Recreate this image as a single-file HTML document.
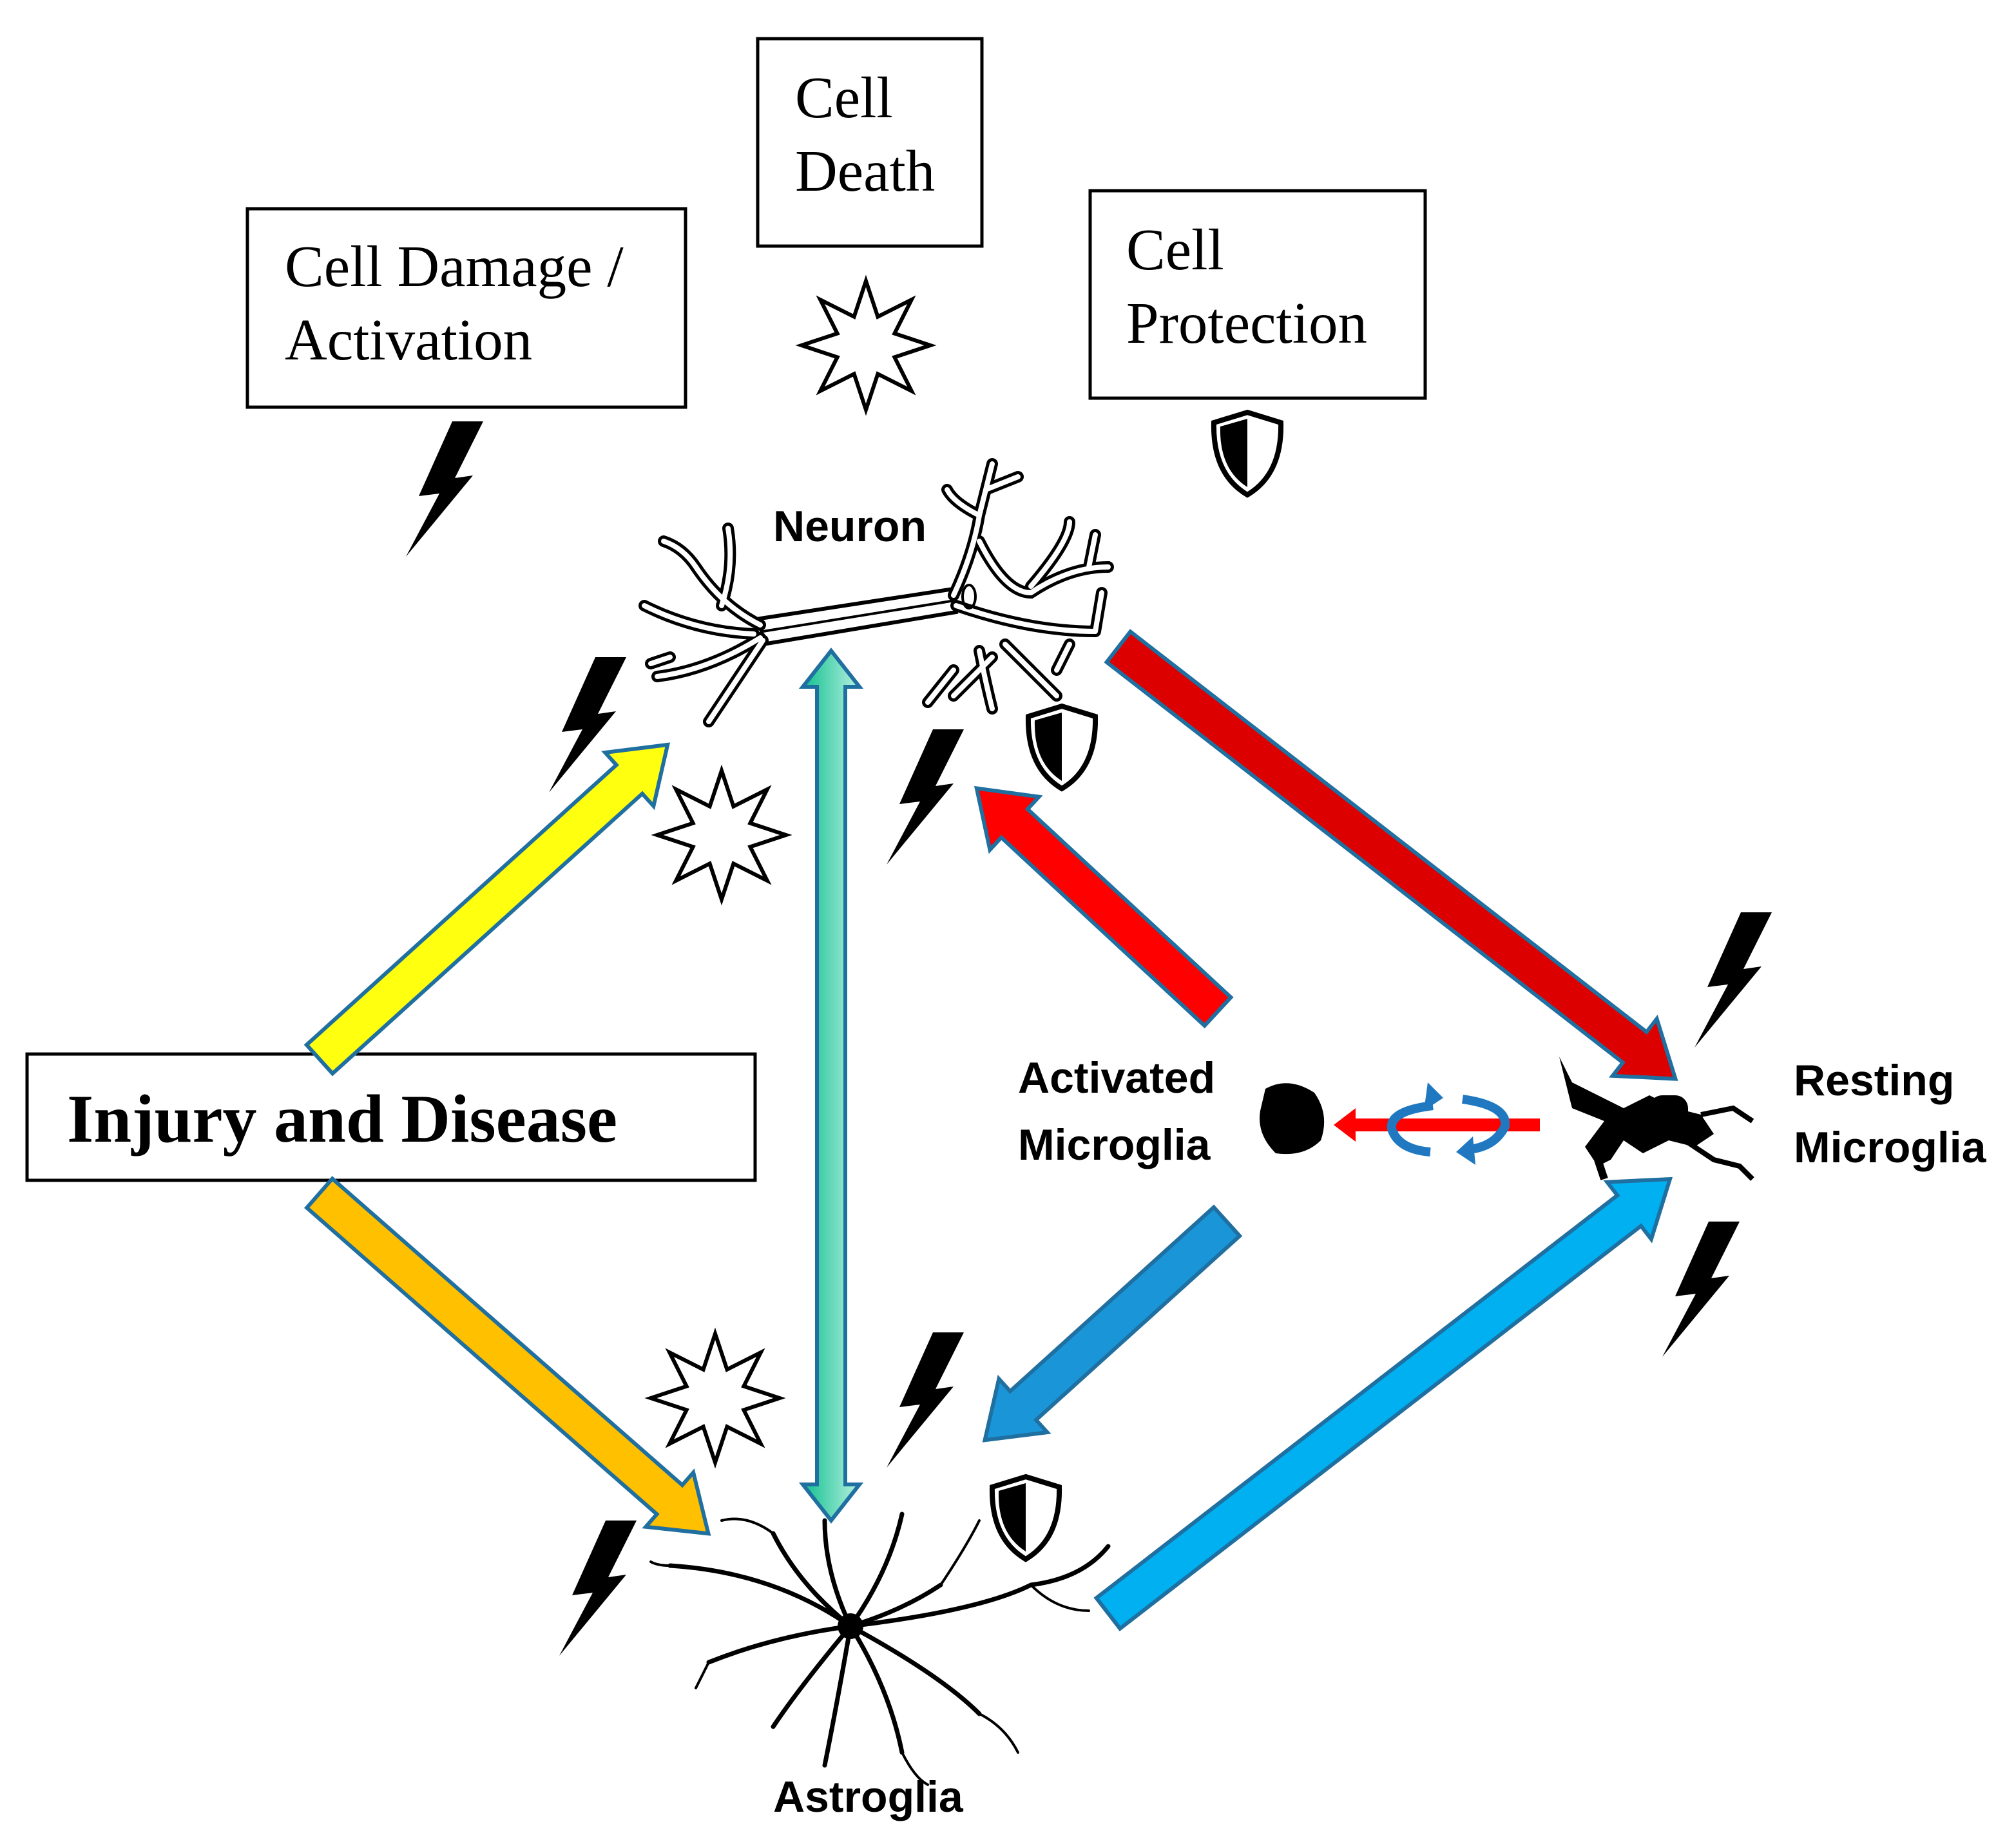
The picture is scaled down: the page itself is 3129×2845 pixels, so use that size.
<!DOCTYPE html>
<html><head><meta charset="utf-8"><style>
html,body{margin:0;padding:0;background:#fff}
svg{display:block}
.box{fill:#fff;stroke:#000;stroke-width:2.5}
.ser{font-family:"Liberation Serif",serif;font-size:45.5px;fill:#000}
.lab{font-family:"Liberation Sans",sans-serif;font-weight:bold;font-size:34px;fill:#000}
.n{fill:none;stroke:#000;stroke-width:9;stroke-linecap:round}
.nw{fill:none;stroke:#fff;stroke-width:4;stroke-linecap:round}
.a{fill:none;stroke:#000;stroke-linecap:round}
</style></head><body>
<svg width="3129" height="2845" viewBox="0 0 1564.5 1422.5" xmlns="http://www.w3.org/2000/svg">
<defs>
<polygon id="bolt" points="36,0 60,0 38,44 52,42 0,105 26,56 10,58" fill="#000"/>
<g id="star"><polygon fill="#fff" stroke="#000" stroke-width="3" stroke-linejoin="miter" points="50,0 22.2,9.2 35.4,35.4 9.2,22.2 0,50 -9.2,22.2 -35.4,35.4 -22.2,9.2 -50,0 -22.2,-9.2 -35.4,-35.4 -9.2,-22.2 0,-50 9.2,-22.2 35.4,-35.4 22.2,-9.2"/></g>
<g id="shield"><path d="M0,-30 L26,-22 Q27,18 0,34 Q-27,18 -26,-22 Z" fill="#fff" stroke="#000" stroke-width="4"/><path d="M0,-25 L-21,-19 Q-22,14 0,28 Z" fill="#000"/></g>
<linearGradient id="gg" x1="0" x2="1" y1="0" y2="0"><stop offset="0" stop-color="#10c090"/><stop offset="1" stop-color="#b8f0e0"/></linearGradient>
<path id="ndr" d="M590,485 Q560,470 540,440 M585,492 Q540,490 500,470 M590,495 Q550,520 510,525 M592,497 Q570,530 550,560 M560,470 Q570,440 565,410 M540,440 Q530,425 515,420 M520,510 L505,515 M740,462 Q755,430 760,400 L770,360 M760,400 Q740,390 735,380 M765,380 L790,370 M760,420 Q780,460 800,460 Q830,440 860,440 M800,455 Q830,420 830,405 M845,440 L850,415 M742,470 Q800,490 850,490 M850,490 L855,460 M780,500 Q800,520 820,540 M760,505 Q765,530 770,550 M770,510 L740,540 M740,520 L720,545 M820,520 L830,500"/>
</defs>

<rect class="box" x="192" y="162" width="340" height="154"/>
<text class="ser" x="221" y="222">Cell Damage /</text>
<text class="ser" x="221" y="279">Activation</text>
<rect class="box" x="588" y="30" width="174" height="161"/>
<text class="ser" x="617" y="91">Cell</text>
<text class="ser" x="617" y="148">Death</text>
<rect class="box" x="846" y="148" width="260" height="161"/>
<text class="ser" x="874" y="209">Cell</text>
<text class="ser" x="874" y="266">Protection</text>
<rect class="box" x="21" y="818" width="565" height="98"/>
<text x="52" y="886" style="font-family:'Liberation Serif',serif;font-weight:bold;font-size:53px">Injury and Disease</text>

<text class="lab" x="600" y="420">Neuron</text>
<text class="lab" x="790" y="848">Activated</text>
<text class="lab" x="790" y="900">Microglia</text>
<text class="lab" x="1392" y="850">Resting</text>
<text class="lab" x="1392" y="902">Microglia</text>
<text class="lab" x="600" y="1406">Astroglia</text>

<use href="#bolt" x="315" y="327"/>
<use href="#bolt" x="426" y="510"/>
<use href="#bolt" x="688" y="566"/>
<use href="#bolt" x="688" y="1034"/>
<use href="#bolt" x="434" y="1180"/>
<use href="#bolt" x="1315" y="708"/>
<use href="#bolt" x="1290" y="948"/>
<use href="#star" x="672" y="268"/>
<use href="#star" x="560" y="648"/>
<use href="#star" x="555" y="1085"/>
<use href="#shield" x="968" y="350"/>
<use href="#shield" x="824" y="578"/>
<use href="#shield" x="796" y="1176"/>

<g>
<path d="M590,480 L740,457 L742,475 L592,500 Z" fill="#fff" stroke="#000" stroke-width="3"/>
<path d="M592,490 L741,466" stroke="#000" stroke-width="2" fill="none"/>
<use href="#ndr" class="n"/>
<use href="#ndr" class="nw"/>
<ellipse cx="752" cy="463" rx="5" ry="9" fill="none" stroke="#000" stroke-width="2"/>
</g>

<g>
<circle cx="660" cy="1262" r="10" fill="#000"/>
<path class="a" stroke-width="3.5" d="M660,1262 Q620,1230 600,1190 M660,1262 Q640,1220 640,1180 M660,1262 Q690,1220 700,1175 M660,1262 Q700,1250 730,1230 M660,1262 Q600,1220 520,1215 M660,1262 Q600,1270 550,1290 M660,1262 Q620,1310 600,1340 M660,1262 Q650,1320 640,1370 M660,1262 Q690,1310 700,1360 M660,1262 Q730,1300 760,1330 M660,1262 Q760,1250 800,1230 Q840,1225 860,1200"/>
<path class="a" stroke-width="2" d="M600,1190 Q580,1175 560,1180 M520,1215 Q510,1215 505,1212 M760,1330 Q780,1340 790,1360 M700,1360 Q710,1380 720,1385 M800,1230 Q820,1250 845,1250 M730,1230 Q750,1200 760,1180 M550,1290 L540,1310"/>
</g>

<path d="M982,845 Q1000,835 1020,848 Q1032,865 1025,885 Q1012,898 990,895 Q975,880 978,862 Z" fill="#000"/>
<g fill="#000">
<path d="M1210,820 L1220,840 L1240,850 L1260,860 L1280,850 L1300,860 L1320,865 L1330,880 L1315,890 L1295,885 L1275,895 L1260,885 L1250,900 L1240,905 L1230,890 L1245,870 L1220,860 Z"/>
<rect x="1280" y="850" width="30" height="30" rx="10"/>
<path d="M1300,880 L1330,900 L1350,905 L1360,915" stroke="#000" stroke-width="4" fill="none"/>
<path d="M1320,865 L1345,860 L1360,870" stroke="#000" stroke-width="4" fill="none"/>
<path d="M1240,900 L1245,915" stroke="#000" stroke-width="6" fill="none"/>
</g>

<g stroke="#1f6fa0" stroke-width="3" stroke-linejoin="miter">
<polygon transform="translate(248,822) rotate(-42.1)" fill="#ffff10" points="0,-15 324,-15 324,-28 364,0 324,28 324,15 0,15"/>
<polygon transform="translate(248,926) rotate(41.2)" fill="#ffc000" points="0,-15 361,-15 361,-28 401,0 361,28 361,15 0,15"/>
<polygon transform="translate(945,785) rotate(222.8)" fill="#ff0000" points="0,-15 215,-15 215,-28 255,0 215,28 215,15 0,15"/>
<polygon transform="translate(868,502) rotate(37.8)" fill="#dd0000" points="0,-15 507,-15 507,-28 547,0 507,28 507,15 0,15"/>
<polygon transform="translate(952,948) rotate(137.9)" fill="#1a96d8" points="0,-15 213,-15 213,-28 253,0 213,28 213,15 0,15"/>
<polygon transform="translate(860,1252) rotate(-37.7)" fill="#00b0f0" points="0,-15 511,-15 511,-28 551,0 511,28 511,15 0,15"/>
<polygon fill="url(#gg)" points="645,505 667,533 656,533 656,1152 667,1152 645,1180 623,1152 634,1152 634,533 623,533"/>
</g>
<polygon fill="#ff0000" points="1195,868 1052,868 1052,860 1035,873 1052,886 1052,878 1195,878"/>
<path d="M1112,858 Q1078,862 1080,876 Q1085,892 1110,894" fill="none" stroke="#1f78c0" stroke-width="7"/>
<path d="M1108,840 L1120,852 L1105,862 Z" fill="#1f78c0"/>
<path d="M1135,853 Q1170,858 1168,874 Q1160,890 1140,892" fill="none" stroke="#1f78c0" stroke-width="7"/>
<path d="M1143,882 L1130,894 L1145,904 Z" fill="#1f78c0"/>
</svg>
</body></html>
